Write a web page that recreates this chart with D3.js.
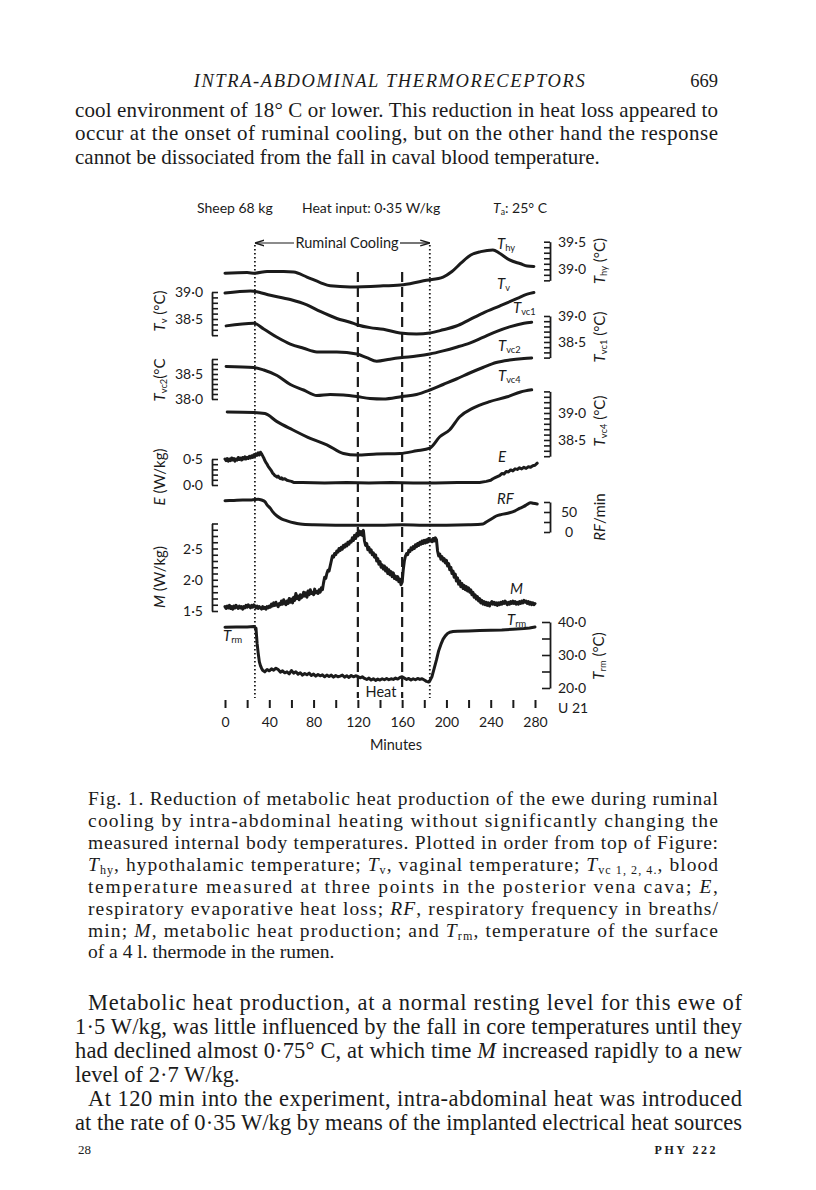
<!DOCTYPE html>
<html>
<head>
<meta charset="utf-8">
<script src="https://cdn.jsdelivr.net/npm/d3@7"></script>
<style>
  body { margin: 0; background: #fff; }
  svg { display: block; }
</style>
</head>
<body>
<svg id="page" width="816" height="1190"></svg>
<script>
// ---- data (minutes, value in each trace's own unit) ----
const minuteTicks = d3.range(0, 281, 20);
const minuteLabels = [0, 40, 80, 120, 160, 200, 240, 280];
const coolingMarks = [27, 185];   // dotted lines: ruminal cooling on / off
const heatMarks = [120, 160];     // dashed lines: heat on / off

const tHy = [[0,38.93],[20,38.94],[27,38.93],[38,38.96],[53,38.96],[62,38.95],[74,38.86],[86,38.76],[95,38.70],[113,38.68],[143,38.70],[161,38.72],[182,38.80],[197,38.86],[205,38.96],[213,39.11],[222,39.26],[231,39.32],[242,39.35],[248,39.29],[257,39.17],[267,39.10],[273,39.06],[279,39.05]];
const tV = [[0,38.98],[23,39.02],[27,39.01],[41,38.94],[59,38.86],[74,38.76],[86,38.64],[101,38.51],[113,38.44],[120,38.39],[131,38.34],[143,38.31],[158,38.24],[173,38.22],[185,38.24],[197,38.30],[209,38.37],[221,38.49],[233,38.61],[248,38.74],[264,38.88],[273,38.96],[279,38.99]];
const tVc1 = [[1,38.81],[26,38.86],[35,38.75],[47,38.59],[59,38.46],[71,38.38],[83,38.31],[101,38.31],[119,38.27],[128,38.20],[137,38.13],[149,38.17],[160,38.20],[173,38.23],[185,38.27],[197,38.33],[209,38.40],[221,38.48],[233,38.59],[245,38.70],[257,38.79],[270,38.86],[277,38.88]];
const tVc2 = [[1,38.65],[26,38.63],[35,38.58],[47,38.47],[59,38.29],[71,38.18],[83,38.07],[95,38.09],[107,38.08],[119,38.05],[131,38.01],[143,38.00],[160,38.05],[173,38.09],[185,38.18],[197,38.29],[209,38.40],[221,38.52],[233,38.63],[245,38.73],[257,38.78],[270,38.81],[277,38.82]];
const tVc4 = [[2,39.02],[26,39.01],[36,38.99],[47,38.84],[61,38.69],[77,38.53],[92,38.41],[107,38.25],[119,38.22],[137,38.24],[158,38.25],[173,38.30],[185,38.35],[194,38.56],[203,38.69],[212,38.93],[224,39.09],[239,39.21],[255,39.30],[267,39.39],[277,39.43]];
const evap = [[0,0.50],[1,0.47],[2,0.51],[3,0.46],[4,0.50],[5,0.47],[6,0.52],[7,0.48],[8,0.51],[9,0.46],[10,0.50],[11,0.48],[12,0.53],[13,0.49],[14,0.52],[15,0.48],[16,0.53],[17,0.50],[18,0.54],[19,0.50],[20,0.53],[21,0.51],[22,0.55],[23,0.52],[24,0.56],[25,0.53],[26,0.58],[27,0.55],[28,0.60],[29,0.57],[30,0.62],[31,0.58],[32,0.63],[33,0.60],[34,0.56],[35,0.52],[36,0.47],[37,0.43],[38,0.40],[39,0.36],[40,0.33],[41,0.30],[42,0.27],[43,0.23],[44,0.21],[45,0.18],[46,0.17],[47,0.15],[48,0.17],[49,0.14],[50,0.12],[51,0.14],[52,0.11],[54,0.12],[56,0.09],[58,0.08],[60,0.07],[62,0.05],[70,0.05],[90,0.04],[110,0.05],[130,0.04],[150,0.05],[170,0.04],[190,0.04],[210,0.05],[230,0.05],[236,0.07],[240,0.09],[242,0.12],[244,0.14],[246,0.16],[248,0.18],[250,0.22],[252,0.21],[254,0.26],[256,0.25],[258,0.29],[260,0.27],[262,0.31],[264,0.30],[266,0.33],[268,0.31],[270,0.34],[272,0.32],[274,0.35],[276,0.34],[278,0.37],[280,0.38],[282,0.42]];
const respFreq = [[0,78],[8,79],[16,80],[24,80],[30,82],[33,80],[36,76],[38,68],[41,59],[43,51],[47,40],[51,33],[56,28],[62,23],[68,20],[80,18],[100,17],[120,17],[140,17],[160,18],[180,17],[200,17],[220,18],[233,20],[236,25],[239,30],[242,35],[245,40],[250,44],[257,48],[262,53],[266,59],[270,64],[273,69],[276,73],[278,72],[282,70]];
const metab = [[0,1.57],[1,1.54],[2,1.58],[3,1.55],[4,1.59],[5,1.54],[6,1.57],[7,1.53],[8,1.58],[9,1.55],[10,1.59],[11,1.56],[12,1.54],[13,1.58],[14,1.55],[15,1.57],[16,1.53],[17,1.57],[18,1.55],[19,1.59],[20,1.56],[21,1.60],[22,1.57],[23,1.55],[24,1.59],[25,1.56],[26,1.60],[27,1.58],[28,1.55],[29,1.58],[30,1.54],[31,1.57],[32,1.55],[33,1.53],[34,1.57],[35,1.54],[36,1.56],[37,1.53],[38,1.57],[39,1.55],[40,1.58],[41,1.56],[42,1.61],[43,1.58],[44,1.63],[45,1.59],[46,1.64],[47,1.60],[48,1.57],[49,1.62],[50,1.60],[51,1.66],[52,1.61],[53,1.68],[54,1.63],[55,1.60],[56,1.66],[57,1.62],[58,1.70],[59,1.64],[60,1.69],[61,1.63],[62,1.72],[63,1.67],[64,1.78],[65,1.70],[66,1.74],[67,1.68],[68,1.76],[69,1.71],[70,1.73],[71,1.80],[72,1.74],[73,1.79],[74,1.72],[75,1.82],[76,1.76],[77,1.84],[78,1.78],[79,1.80],[80,1.76],[81,1.85],[82,1.79],[83,1.81],[84,1.78],[85,1.84],[86,1.80],[87,1.87],[88,1.84],[89,1.95],[90,2.04],[91,2.02],[92,2.10],[93,2.15],[94,2.14],[95,2.22],[96,2.30],[97,2.38],[98,2.36],[99,2.42],[100,2.40],[101,2.46],[102,2.44],[103,2.50],[104,2.47],[105,2.52],[106,2.49],[107,2.55],[108,2.52],[109,2.57],[110,2.54],[111,2.60],[112,2.57],[113,2.62],[114,2.60],[115,2.67],[116,2.63],[117,2.71],[118,2.66],[119,2.74],[120,2.70],[121,2.78],[122,2.72],[123,2.77],[124,2.71],[125,2.79],[126,2.62],[127,2.55],[128,2.58],[129,2.48],[130,2.52],[131,2.44],[132,2.48],[133,2.40],[134,2.43],[135,2.36],[136,2.40],[137,2.30],[138,2.34],[139,2.25],[140,2.29],[141,2.20],[142,2.24],[143,2.17],[144,2.22],[145,2.14],[146,2.19],[147,2.10],[148,2.16],[149,2.08],[150,2.13],[151,2.05],[152,2.11],[153,2.02],[154,2.06],[155,2.00],[156,2.05],[157,1.97],[158,2.01],[159,1.92],[160,1.96],[161,2.16],[162,2.30],[163,2.38],[164,2.42],[165,2.40],[166,2.47],[167,2.45],[168,2.51],[169,2.48],[170,2.53],[171,2.50],[172,2.56],[173,2.53],[174,2.58],[175,2.55],[176,2.60],[177,2.57],[178,2.62],[179,2.58],[180,2.63],[181,2.59],[182,2.64],[183,2.60],[184,2.66],[185,2.62],[186,2.64],[187,2.61],[188,2.66],[189,2.62],[190,2.67],[191,2.64],[192,2.46],[193,2.38],[194,2.41],[195,2.33],[196,2.37],[197,2.30],[198,2.34],[199,2.27],[200,2.31],[201,2.22],[202,2.26],[203,2.16],[204,2.20],[205,2.10],[206,2.14],[207,2.04],[208,2.09],[209,1.98],[210,2.03],[211,1.93],[212,1.98],[213,1.89],[214,1.94],[215,1.86],[216,1.91],[217,1.84],[218,1.89],[219,1.82],[220,1.87],[221,1.80],[222,1.84],[223,1.76],[224,1.80],[225,1.72],[226,1.76],[227,1.69],[228,1.73],[229,1.66],[230,1.70],[231,1.63],[232,1.67],[233,1.61],[234,1.65],[235,1.60],[236,1.64],[237,1.59],[238,1.63],[239,1.58],[240,1.62],[241,1.65],[242,1.61],[243,1.64],[244,1.60],[245,1.63],[246,1.59],[247,1.63],[248,1.60],[249,1.64],[250,1.61],[251,1.65],[252,1.62],[253,1.66],[254,1.63],[255,1.60],[256,1.64],[257,1.61],[258,1.65],[259,1.62],[260,1.66],[261,1.62],[262,1.65],[263,1.61],[264,1.64],[265,1.61],[266,1.65],[267,1.62],[268,1.66],[269,1.63],[270,1.67],[271,1.64],[272,1.66],[273,1.62],[274,1.65],[275,1.61],[276,1.64],[277,1.60],[278,1.63],[279,1.60],[280,1.62]];
const tRm = [[0,38.4],[10,38.5],[20,38.5],[26,38.6],[28,38.1],[29,33.5],[30,30.5],[31,28],[32,26.8],[33,26.0],[34,25.4],[36,24.9],[38,25.6],[40,25.2],[42,25.8],[44,25.4],[46,26.0],[48,25.6],[50,24.8],[52,25.2],[54,24.6],[56,24.9],[58,24.3],[60,25.3],[62,24.5],[64,24.9],[66,24.2],[68,24.6],[70,23.9],[72,24.4],[74,24.0],[76,24.5],[78,23.8],[80,24.2],[82,23.6],[84,24.1],[86,23.7],[88,24.0],[90,23.4],[92,23.9],[94,23.5],[96,23.9],[98,23.3],[100,23.8],[102,23.4],[104,23.6],[106,23.9],[108,23.3],[110,23.7],[112,23.2],[114,23.8],[116,23.4],[118,23.7],[120,23.5],[122,23.1],[124,23.4],[126,22.9],[128,22.6],[130,23.0],[132,22.4],[134,22.8],[136,22.3],[138,22.7],[140,22.4],[142,22.8],[144,22.5],[146,22.9],[148,22.5],[150,22.8],[152,22.6],[154,23.0],[156,22.7],[158,23.2],[160,23.4],[162,23.0],[164,22.6],[166,22.9],[168,22.4],[170,22.8],[172,22.5],[174,22.9],[176,22.6],[178,22.8],[180,22.4],[182,22.0],[184,21.8],[185,22.2],[187,23.5],[189,26],[191,28.5],[193,31.3],[195,33.2],[197,34.8],[199,35.8],[201,36.5],[203,36.9],[206,37.1],[210,37.2],[220,37.3],[230,37.4],[240,37.5],[250,37.6],[260,37.8],[270,38.0],[275,38.2],[280,38.5]];

// axis ticks and labels of each trace
const hyTicks = d3.range(38.8, 39.51, 0.1), hyLabels = [39.5, 39.0];
const vTicks = d3.range(38.2, 39.01, 0.1), vLabels = [39.0, 38.5];
const vc1Ticks = d3.range(38.2, 39.01, 0.1), vc1Labels = [39.0, 38.5];
const vc2Ticks = d3.range(38.0, 38.81, 0.1), vc2Labels = [38.5, 38.0];
const vc4Ticks = d3.range(38.2, 39.41, 0.1), vc4Labels = [39.0, 38.5];
const eTicks = d3.range(0, 0.51, 0.1), eLabels = [0.5, 0.0];
const rfTicks = [0, 25, 50, 75], rfLabels = [50, 0];
const mTicks = d3.range(1.5, 2.91, 0.1), mLabels = [2.5, 2.0, 1.5];
const rmTicks = [20, 25, 30, 35, 40], rmLabels = [40, 30, 20];

// ---- page ----
const svg = d3.select("#page");
const ink = "#1b1b1b";
const serif = "'Liberation Serif', 'DejaVu Serif', serif";
const sans = "Lato, 'Open Sans', sans-serif";
const fmt = d => d3.format(".1f")(d).replace(".", "·");

// a line of text built from parts: [string, style] with style "i" italic, "s" subscript
function textLine(g, x, y, parts, o = {}) {
  const t = g.append("text").attr("x", x).attr("y", y)
    .attr("font-family", o.family || serif).attr("font-size", o.size || 21)
    .attr("fill", ink).attr("text-anchor", o.anchor || "start");
  if (o.width) t.attr("textLength", o.width).attr("lengthAdjust", "spacing");
  if (o.rotate) t.attr("transform", `rotate(-90,${x},${y})`);
  if (o.spacing) t.attr("letter-spacing", o.spacing);
  if (o.italic) t.attr("font-style", "italic");
  if (o.weight) t.attr("font-weight", o.weight);
  parts.forEach(p => {
    const [s, st] = typeof p === "string" ? [p, ""] : p;
    const sp = t.append("tspan").text(s);
    if (st.includes("i")) sp.attr("font-style", "italic");
    if (st.includes("s")) sp.attr("font-size", (o.size || 21) * 0.62).attr("baseline-shift", "-22%").attr("font-style", "normal");
  });
  return t;
}

// running head and top text
textLine(svg, 390, 87, ["INTRA-ABDOMINAL THERMORECEPTORS"], {anchor: "middle", italic: true, size: 18.5, spacing: 1.6});
textLine(svg, 718, 87, ["669"], {anchor: "end", size: 18.5});
const topText = svg.append("g");
textLine(topText, 75, 117, ["cool environment of 18° C or lower. This reduction in heat loss appeared to"], {width: 643});
textLine(topText, 75, 140, ["occur at the onset of ruminal cooling, but on the other hand the response"], {width: 643});
textLine(topText, 75, 164, ["cannot be dissociated from the fall in caval blood temperature."]);

// ---- chart ----
const chart = svg.append("g");
const x = d3.scaleLinear().domain([0, 280]).range([225, 535]);
const lin = (v0, p0, v1, p1) => d3.scaleLinear().domain([v0, v1]).range([p0, p1]);
const yHy = lin(39.0, 269.3, 39.5, 241.7);
const yV = lin(38.5, 319, 39.0, 292);
const yVc1 = lin(38.5, 342, 39.0, 316);
const yVc2 = lin(38.0, 399, 38.5, 374);
const yVc4 = lin(38.5, 440, 39.0, 413);
const yE = lin(0, 485, 0.5, 459);
const yRf = lin(0, 532, 50, 512);
const yM = lin(1.5, 611, 2.5, 548.5);
const yRm = lin(20, 688, 40, 622);

const span = (s, ticks) => { const e = d3.extent(ticks); return s.copy().domain(e).range(e.map(s)); };
function bracket(s, ticks, labels, side, o = {}) {
  const left = side === "left";
  const ax = (left ? d3.axisRight : d3.axisLeft)(span(s, ticks))
    .tickValues(ticks).tickSize(o.tick || 6).tickSizeOuter(0).tickFormat("");
  const g = chart.append("g").attr("transform", `translate(${left ? 212 : 550},0)`).call(ax);
  g.selectAll("path,line").attr("stroke", ink).attr("stroke-width", 1.6);
  g.select(".domain").attr("stroke-width", 1.8);
  chart.append("g").selectAll("text").data(labels).join("text")
    .attr("x", left ? 203 : (o.labelX || 558)).attr("y", d => s(d)).attr("dy", "0.36em")
    .attr("text-anchor", left ? "end" : (o.anchor || "start"))
    .attr("font-family", sans).attr("font-size", 14).attr("fill", ink)
    .text(o.format || fmt);
}
bracket(yHy, hyTicks, hyLabels, "right");
bracket(yV, vTicks, vLabels, "left");
bracket(yVc1, vc1Ticks, vc1Labels, "right");
bracket(yVc2, vc2Ticks, vc2Labels, "left");
bracket(yVc4, vc4Ticks, vc4Labels, "right");
bracket(yE, eTicks, eLabels, "left");
bracket(yRf, rfTicks, rfLabels, "right", {format: d => d, anchor: "middle", labelX: 569});
bracket(yM, mTicks, mLabels, "left");
bracket(yRm, rmTicks, rmLabels, "right", {tick: 8});

// axis titles
const cs = {family: sans, size: 15, rotate: true, anchor: "middle"};
textLine(chart, 605, 261, [["T", "i"], ["hy", "s"], " (°C)"], cs);
textLine(chart, 605, 337, [["T", "i"], ["vc1", "s"], " (°C)"], cs);
textLine(chart, 605, 421, [["T", "i"], ["vc4", "s"], " (°C)"], cs);
textLine(chart, 605, 517, [["RF", "i"], "/min"], cs);
textLine(chart, 604, 656, [["T", "i"], ["rm", "s"], " (°C)"], cs);
textLine(chart, 165, 311, [["T", "i"], ["v", "s"], " (°C)"], cs);
textLine(chart, 165, 380, [["T", "i"], ["vc2", "s"], "(°C"], cs);
textLine(chart, 165, 477, [["E", "i"], " (W/kg)"], cs);
textLine(chart, 165, 577, [["M", "i"], " (W/kg)"], cs);

// event lines
const vTop = 245, vBottom = 698;
chart.selectAll(".cool").data(coolingMarks).join("line")
  .attr("x1", x).attr("x2", x).attr("y1", vTop).attr("y2", vBottom)
  .attr("stroke", ink).attr("stroke-width", 1.8).attr("stroke-dasharray", "1.6,2.4");
chart.selectAll(".heat").data(heatMarks).join("line")
  .attr("x1", x).attr("x2", x).attr("y1", 272).attr("y2", vBottom)
  .attr("stroke", ink).attr("stroke-width", 2.2).attr("stroke-dasharray", "10,5");

// Ruminal cooling arrows
svg.append("defs").append("marker").attr("id", "ah").attr("viewBox", "0 0 10 10")
  .attr("refX", 10).attr("refY", 5).attr("markerWidth", 8).attr("markerHeight", 8).attr("orient", "auto-start-reverse")
  .append("path").attr("d", "M0,2 L10,5 L0,8").attr("fill", "none").attr("stroke", ink).attr("stroke-width", 1.4);
chart.append("line").attr("x1", 294).attr("x2", x(coolingMarks[0])).attr("y1", 243).attr("y2", 243)
  .attr("stroke", ink).attr("stroke-width", 1.2).attr("marker-end", "url(#ah)");
chart.append("line").attr("x1", 400).attr("x2", x(coolingMarks[1])).attr("y1", 243).attr("y2", 243)
  .attr("stroke", ink).attr("stroke-width", 1.2).attr("marker-end", "url(#ah)");
textLine(chart, 347, 248, ["Ruminal Cooling"], {family: sans, size: 14.5, anchor: "middle"});
textLine(chart, 381, 697, ["Heat"], {family: sans, size: 14.5, anchor: "middle"});

// header of chart
textLine(chart, 197, 213, ["Sheep 68 kg"], {family: sans, size: 14});
textLine(chart, 302, 213, ["Heat input: 0·35 W/kg"], {family: sans, size: 14});
textLine(chart, 493, 213, [["T", "i"], ["a", "s"], ": 25° C"], {family: sans, size: 14});

// traces
const traces = [
  [tHy, yHy, d3.curveMonotoneX],
  [tV, yV, d3.curveMonotoneX],
  [tVc1, yVc1, d3.curveMonotoneX],
  [tVc2, yVc2, d3.curveMonotoneX],
  [tVc4, yVc4, d3.curveMonotoneX],
  [evap, yE, d3.curveLinear],
  [respFreq, yRf, d3.curveMonotoneX],
  [metab, yM, d3.curveLinear],
  [tRm, yRm, d3.curveLinear]
];
traces.forEach(([data, y, curve]) => {
  chart.append("path").datum(data)
    .attr("d", d3.line().x(d => x(d[0])).y(d => y(d[1])).curve(curve))
    .attr("fill", "none").attr("stroke", ink).attr("stroke-width", 3)
    .attr("stroke-linejoin", "round").attr("stroke-linecap", "round");
});

// trace labels
const tl = {family: sans, size: 15};
textLine(chart, 497, 249, [["T", "i"], ["hy", "s"]], tl);
textLine(chart, 497, 289, [["T", "i"], ["v", "s"]], tl);
textLine(chart, 513, 313, [["T", "i"], ["vc1", "s"]], tl);
textLine(chart, 498, 351, [["T", "i"], ["vc2", "s"]], tl);
textLine(chart, 498, 381, [["T", "i"], ["vc4", "s"]], tl);
textLine(chart, 498, 462, [["E", "i"]], tl);
textLine(chart, 497, 504, [["RF", "i"]], tl);
textLine(chart, 510, 594, [["M", "i"]], tl);
textLine(chart, 507, 625, [["T", "i"], ["rm", "s"]], tl);
textLine(chart, 223, 641, [["T", "i"], ["rm", "s"]], tl);

// time axis
const xa = chart.append("g").attr("transform", "translate(0,700)")
  .call(d3.axisBottom(x).tickValues(minuteTicks).tickSize(8).tickPadding(9)
    .tickFormat(d => minuteLabels.includes(d) ? d : ""));
xa.select(".domain").remove();
xa.selectAll("line").attr("stroke", ink).attr("stroke-width", 2);
xa.selectAll("text").attr("font-family", sans).attr("font-size", 14).attr("fill", ink);
textLine(chart, 396, 750, ["Minutes"], {family: sans, size: 14.5, anchor: "middle"});
textLine(chart, 558, 713, ["U 21"], {family: sans, size: 14});

// ---- caption ----
const cap = svg.append("g");
const co = {size: 19.5, width: 630};
textLine(cap, 88, 805, ["Fig. 1. Reduction of metabolic heat production of the ewe during ruminal"], co);
textLine(cap, 88, 827, ["cooling by intra-abdominal heating without significantly changing the"], co);
textLine(cap, 88, 849, ["measured internal body temperatures. Plotted in order from top of Figure:"], co);
textLine(cap, 88, 871, [["T", "i"], ["hy", "s"], ", hypothalamic temperature; ", ["T", "i"], ["v", "s"], ", vaginal temperature; ", ["T", "i"], ["vc 1, 2, 4.", "s"], ", blood"], co);
textLine(cap, 88, 893, ["temperature measured at three points in the posterior vena cava; ", ["E", "i"], ","], co);
textLine(cap, 88, 915, ["respiratory evaporative heat loss; ", ["RF", "i"], ", respiratory frequency in breaths/"], co);
textLine(cap, 88, 937, ["min; ", ["M", "i"], ", metabolic heat production; and ", ["T", "i"], ["rm", "s"], ", temperature of the surface"], co);
textLine(cap, 88, 958, ["of a 4 l. thermode in the rumen."], {size: 19.5});

// ---- text below ----
const bot = svg.append("g");
const bo = {size: 22.5, width: 667};
textLine(bot, 88, 1010, ["Metabolic heat production, at a normal resting level for this ewe of"], {size: 22.5, width: 654});
textLine(bot, 75, 1034, ["1·5 W/kg, was little influenced by the fall in core temperatures until they"], bo);
textLine(bot, 75, 1058, ["had declined almost 0·75° C, at which time ", ["M", "i"], " increased rapidly to a new"], bo);
textLine(bot, 75, 1082, ["level of 2·7 W/kg."], {size: 22.5});
textLine(bot, 88, 1106, ["At 120 min into the experiment, intra-abdominal heat was introduced"], {size: 22.5, width: 654});
textLine(bot, 75, 1130, ["at the rate of 0·35 W/kg by means of the implanted electrical heat sources"], bo);
textLine(bot, 78, 1154, ["28"], {size: 13});
textLine(bot, 718, 1154, ["PHY 222"], {size: 12, anchor: "end", weight: "bold", spacing: 2.5});
</script>
</body>
</html>
